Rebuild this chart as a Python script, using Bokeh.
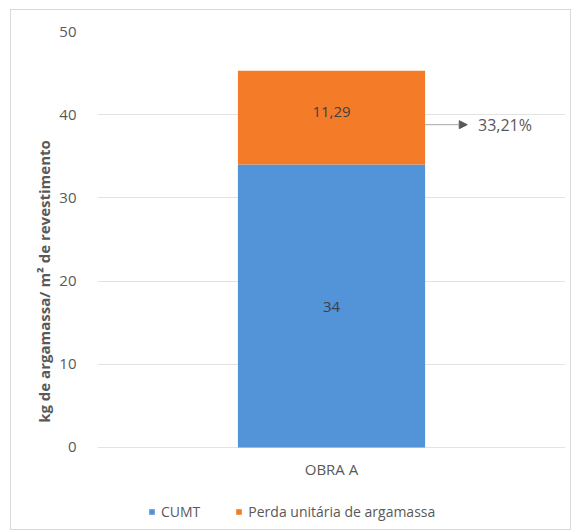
from bokeh.plotting import figure
from bokeh.models import (Range1d, FixedTicker, Legend, LegendItem, Arrow,
                          NormalHead, Label, ColumnDataSource, Title)
from bokeh.embed import file_html
from bokeh.resources import INLINE
from bokeh.core.properties import value

categories = ["OBRA A"]
cumt = [34]
perda = [11.29]
perda_pct = ["33,21%"]
cumt_labels = ["34"]
perda_labels = ["11,29"]
y_ticks = [0, 10, 20, 30, 40, 50]
series_names = ["CUMT", "Perda unitária de argamassa"]
y_title = "kg de argamassa/ m² de revestimento"

FONT = "Open Sans"
GRAY = "#595959"

# frame extends to the bottom so the legend can live inside it
p = figure(width=561, height=521, output_backend="svg", toolbar_location=None,
           x_range=Range1d(0, len(categories)), y_range=Range1d(-10.1, 50),
           x_axis_location=None,
           min_border_left=86, min_border_right=7, min_border_top=21, min_border_bottom=0)
p.styles = {"margin-left": "10px", "margin-top": "9px", "border": "1px solid #d9d9d9"}
p.outline_line_color = None
p.background_fill_color = "white"

xs = [i + 0.5 for i in range(len(categories))]
tops = [a + b for a, b in zip(cumt, perda)]
src = ColumnDataSource(dict(x=xs, cumt=cumt, perda=perda, top=tops,
                            mid1=[c / 2 for c in cumt],
                            mid2=[c + q / 2 for c, q in zip(cumt, perda)],
                            l1=cumt_labels, l2=perda_labels,
                            base=[0] * len(categories), cat=categories))

r1 = p.vbar(x="x", bottom=0, top="cumt", width=0.4, source=src,
            fill_color="#5393D7", line_color=None)
r2 = p.vbar(x="x", bottom="cumt", top="top", width=0.4, source=src,
            fill_color="#F47C28", line_color=None)

p.text(x="x", y="mid1", text="l1", source=src, text_align="center", text_baseline="middle",
       text_font=value(FONT), text_font_size="15px", text_color="#404040", y_offset=1)
p.text(x="x", y="mid2", text="l2", source=src, text_align="center", text_baseline="middle",
       text_font=value(FONT), text_font_size="15px", text_color="#404040", y_offset=-6)

# category label below the bar
p.text(x="x", y="base", text="cat", source=src, text_align="center", text_baseline="middle",
       text_font=value(FONT), text_font_size="15px", text_color=GRAY, y_offset=22)

# arrow to percentage
ya = 38.8
for i, x in enumerate(xs):
    p.add_layout(Arrow(end=NormalHead(size=8, fill_color=GRAY, line_color=GRAY),
                       x_start=x + 0.2, y_start=ya, x_end=x + 0.29, y_end=ya,
                       line_color="#a6a6a6", line_width=1))
    p.add_layout(Label(x=x + 0.313, y=ya, text=perda_pct[i], text_baseline="middle",
                       text_font=FONT, text_font_size="16px", text_color=GRAY))

# y axis
p.yaxis.ticker = FixedTicker(ticks=y_ticks)
p.yaxis.axis_line_color = None
p.yaxis.major_tick_line_color = None
p.yaxis.minor_tick_line_color = None
p.yaxis.major_label_text_font = FONT
p.yaxis.major_label_text_font_size = "15px"
p.yaxis.major_label_text_color = GRAY
p.yaxis.major_label_standoff = 15

p.add_layout(Title(text=y_title, align="center", offset=42, text_font=FONT,
                   text_font_size="15px", text_font_style="bold", text_color=GRAY,
                   standoff=5), "left")

p.xgrid.grid_line_color = None
p.ygrid.grid_line_color = "#e3e3e3"
p.ygrid.ticker = FixedTicker(ticks=y_ticks)

legend = Legend(items=[LegendItem(label=series_names[0], renderers=[r1]),
                       LegendItem(label=series_names[1], renderers=[r2])],
                orientation="horizontal", location=(51, 10),
                label_text_font=FONT, label_text_font_size="14px", label_text_color=GRAY,
                glyph_width=7, glyph_height=7, label_standoff=6, spacing=35,
                border_line_color=None, background_fill_color=None,
                margin=0, padding=0)
p.add_layout(legend)

open("out.html", "w").write(file_html(p, INLINE))
